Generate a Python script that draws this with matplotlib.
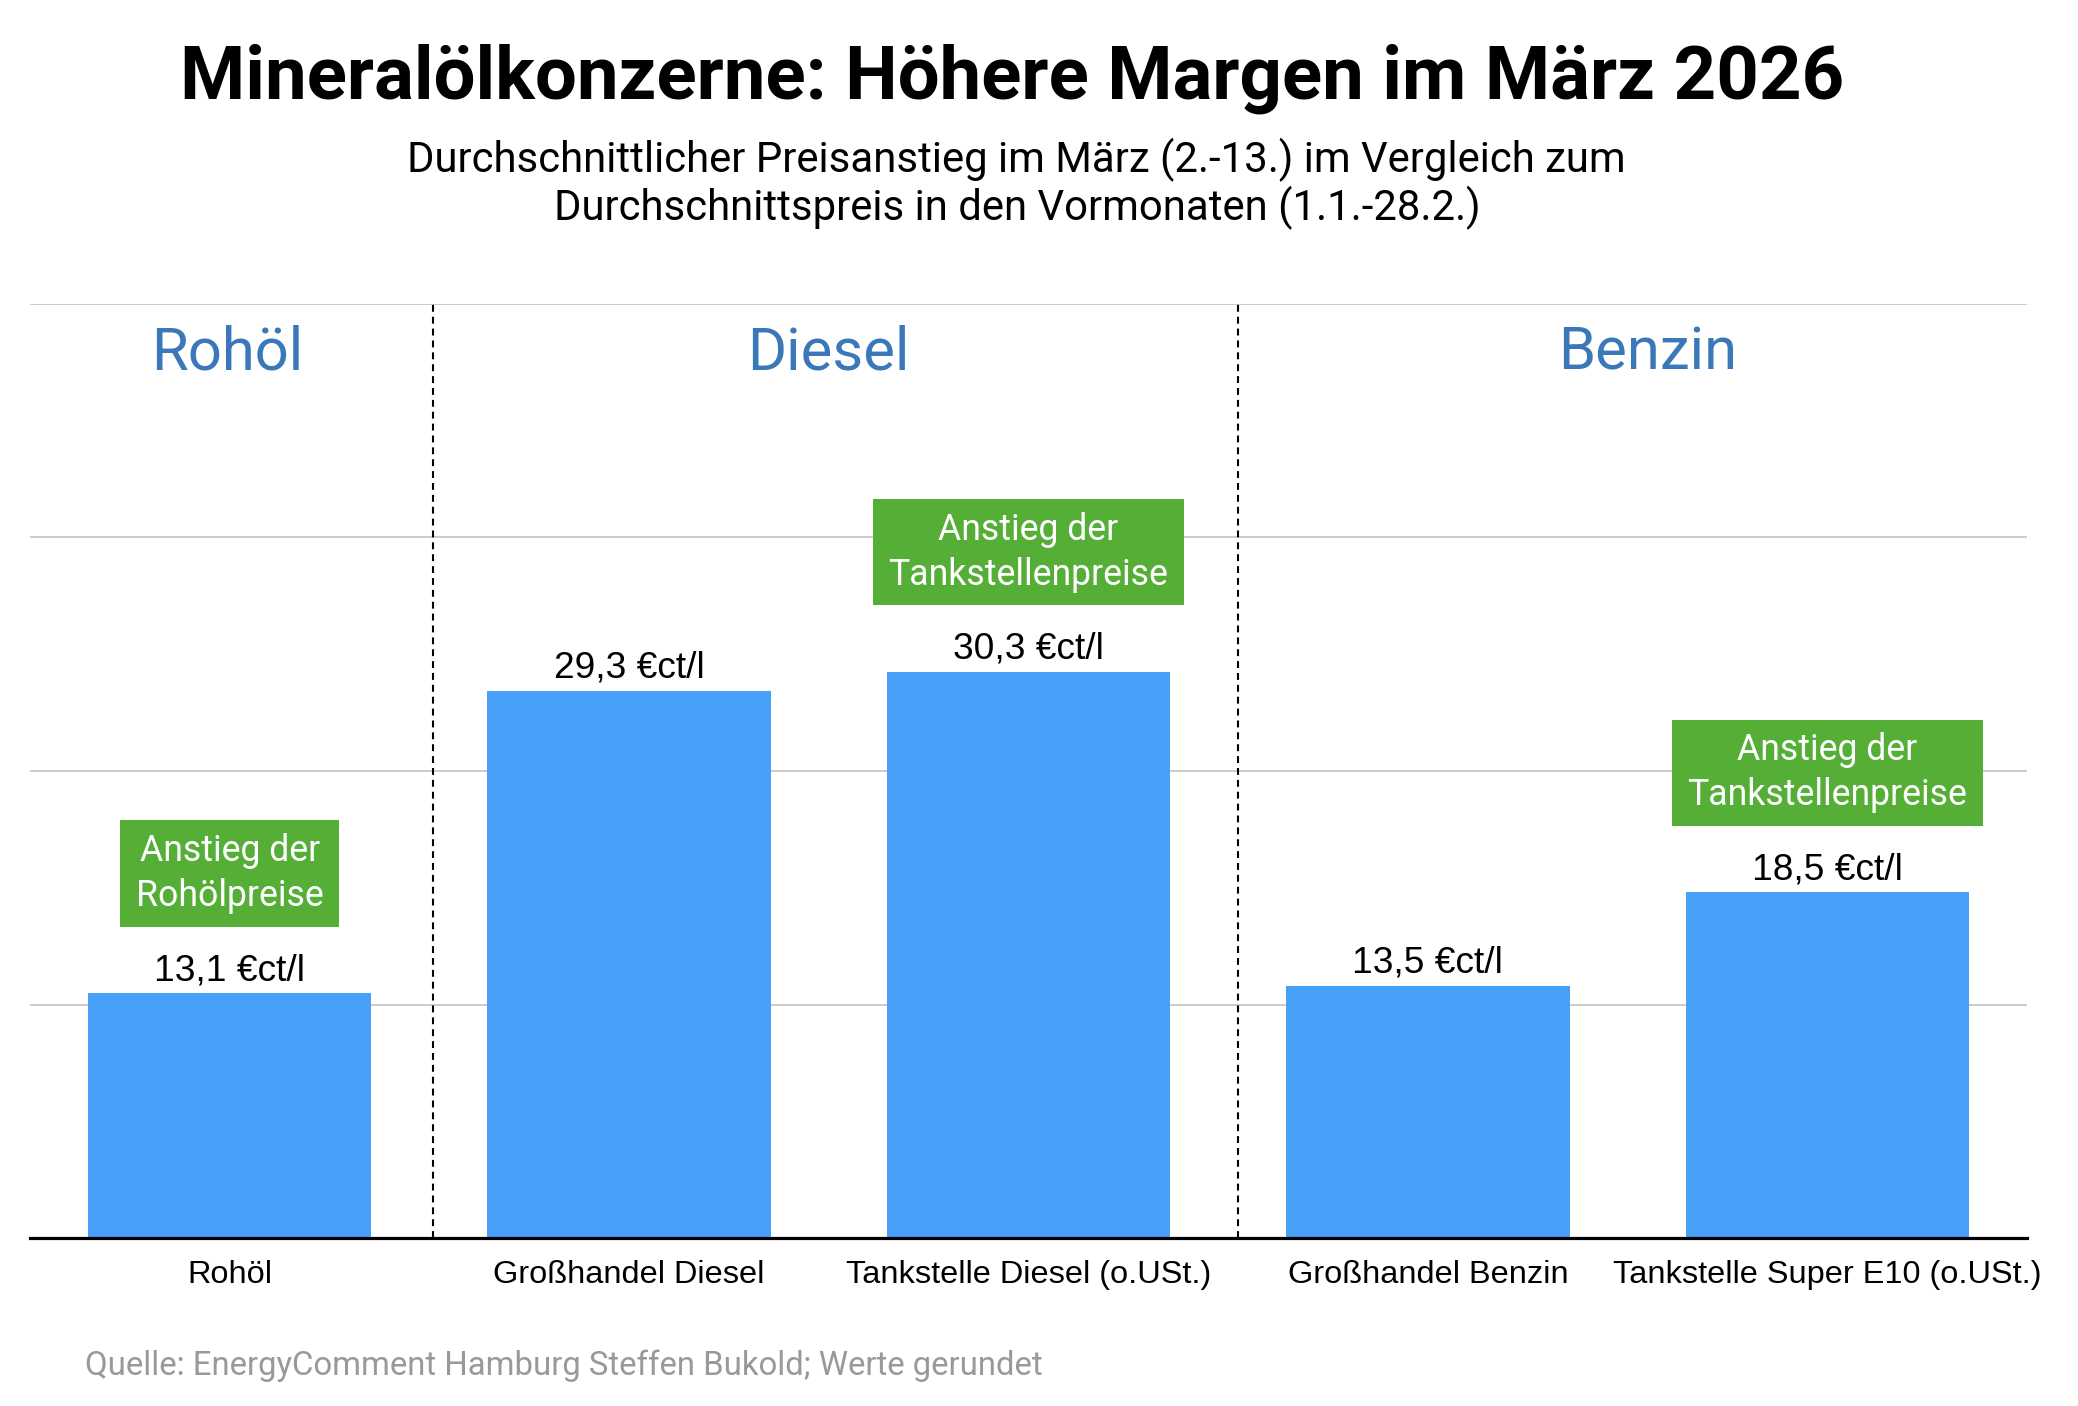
import matplotlib
matplotlib.use("Agg")
import matplotlib.pyplot as plt

# ---- data ----
categories = ["Rohöl", "Großhandel Diesel", "Tankstelle Diesel (o.USt.)",
              "Großhandel Benzin", "Tankstelle Super E10 (o.USt.)"]
values = [13.1, 29.3, 30.3, 13.5, 18.5]
value_labels = ["13,1 €ct/l", "29,3 €ct/l", "30,3 €ct/l", "13,5 €ct/l", "18,5 €ct/l"]
group_names = ["Rohöl", "Diesel", "Benzin"]
group_centers = [-0.005, 1.50, 3.55]
dividers = [0.51, 2.525]
callout_bars = [0, 2, 4]
callout_texts = ["Anstieg der\nRohölpreise", "Anstieg der\nTankstellenpreise",
                 "Anstieg der\nTankstellenpreise"]
gridvals = [12.5, 25, 37.5, 50]

title = "Mineralölkonzerne: Höhere Margen im März 2026"
subtitle1 = "Durchschnittlicher Preisanstieg im März (2.-13.) im Vergleich zum"
subtitle2 = "Durchschnittspreis in den Vormonaten (1.1.-28.2.)"
source = "Quelle: EnergyComment Hamburg Steffen Bukold; Werte gerundet"

BAR = "#479ff8"
GREEN = "#55ae35"
GROUP = "#3b78ba"
W, H = 2078, 1406
DPI = 100

fig = plt.figure(figsize=(W / DPI, H / DPI), dpi=DPI)
ax = fig.add_axes([30 / W, 1 - 1238 / H, (2027 - 30) / W, (1238 - 304) / H])

x = list(range(len(categories)))
ax.bar(x, values, width=0.71, color=BAR, zorder=2)
ax.set_xlim(-0.5, 4.5)
ax.set_ylim(0, 50)

ax.set_yticks(gridvals)
ax.set_yticklabels([])
ax.tick_params(axis="y", length=0)
ax.yaxis.grid(True, color="#cccccc", linewidth=1.4, zorder=0)
ax.set_axisbelow(True)

ax.set_xticks(x)
ax.set_xticklabels(categories, fontfamily="Liberation Sans", fontsize=23.4)
ax.tick_params(axis="x", length=0, pad=16)

for s in ["top", "right", "left"]:
    ax.spines[s].set_visible(False)
ax.spines["bottom"].set_linewidth(2.3)
ax.spines["bottom"].set_color("black")
ax.spines["bottom"].set_zorder(5)

for d in dividers:
    ax.plot([d, d], [0, 50], color="black", linewidth=1.5,
            linestyle=(0, (3.3, 2.4)), zorder=3, clip_on=False)

for gx, gn in zip(group_centers, group_names):
    ax.text(gx, 46.5, gn, ha="center", va="baseline", fontfamily="Roboto",
            fontsize=43, color=GROUP)

for xi, v, lab in zip(x, values, value_labels):
    ax.annotate(lab, (xi, v), xytext=(0, 9.4), textcoords="offset points",
                ha="center", va="baseline", fontfamily="Liberation Sans",
                fontsize=26.7, color="black", zorder=4)

for bi, txt in zip(callout_bars, callout_texts):
    ax.annotate(txt, (bi, values[bi]), xytext=(0, 57), textcoords="offset points",
                ha="center", va="bottom", fontfamily="Roboto", fontsize=25.7,
                color="white", linespacing=1.33, zorder=4,
                bbox=dict(boxstyle="square,pad=0.434", facecolor=GREEN,
                          edgecolor="none", mutation_aspect=0.8))

fig.text(1012 / W, 1 - 99 / H, title, ha="center", va="baseline",
         fontfamily="Roboto", fontweight="bold", fontsize=53.6)
fig.text(1016 / W, 1 - 172 / H, subtitle1, ha="center", va="baseline",
         fontfamily="Roboto", fontsize=30.2)
fig.text(1017 / W, 1 - 220 / H, subtitle2, ha="center", va="baseline",
         fontfamily="Roboto", fontsize=30.2)
fig.text(85 / W, 1 - 1375 / H, source, ha="left", va="baseline",
         fontfamily="Roboto", fontsize=23.7, color="#999999")

fig.savefig("out.png", dpi=DPI)
